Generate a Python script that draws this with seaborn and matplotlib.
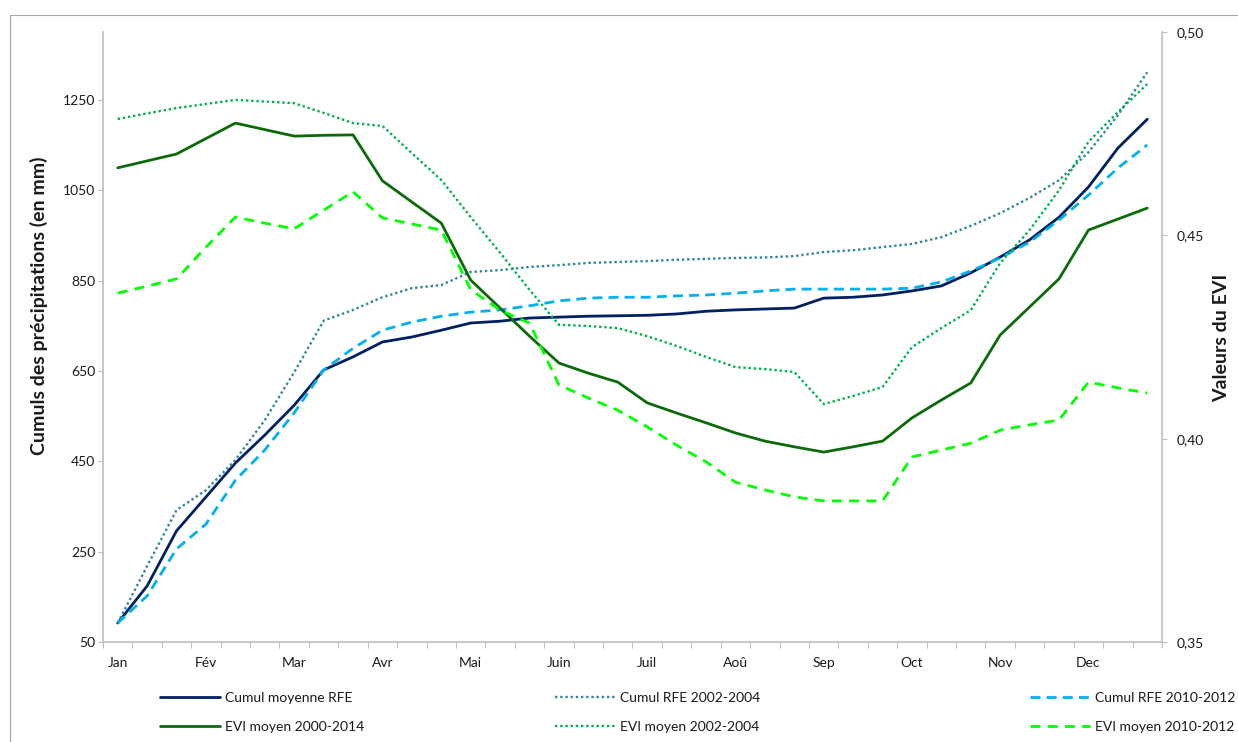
import matplotlib
matplotlib.use("Agg")
import matplotlib.pyplot as plt
import seaborn as sns
import numpy as np
from matplotlib.lines import Line2D
from matplotlib.ticker import FuncFormatter

# 36 dekads (3 per month)
months = ["Jan", "Fév", "Mar", "Avr", "Mai", "Juin", "Juil", "Aoû", "Sep", "Oct", "Nov", "Dec"]
dekads = np.arange(36)

# cumulative rainfall (mm), left axis
cumul_moy = [92, 174, 296, 371, 446, 508, 574, 652, 681, 714, 725, 740,
             756, 760, 767, 769, 771, 772, 773, 776, 782, 785, 787, 789,
             811, 813, 818, 827, 838, 867, 902, 940, 990, 1057, 1143, 1207]
cumul_0204 = [92, 218, 342, 386, 453, 541, 647, 761, 785, 813, 833, 840,
              869, 873, 880, 884, 889, 891, 893, 896, 898, 900, 901, 904,
              913, 917, 924, 931, 946, 971, 999, 1033, 1072, 1134, 1216, 1311]
cumul_1012 = [92, 152, 256, 311, 408, 475, 557, 652, 700, 740, 758, 771,
              780, 785, 794, 805, 811, 813, 813, 816, 818, 822, 827, 831,
              831, 831, 831, 833, 847, 871, 900, 935, 984, 1039, 1099, 1150]

# EVI values, right axis
evi_0014 = [0.4666, 0.4683, 0.4700, 0.4738, 0.4776, 0.4760, 0.4744, 0.4746, 0.4747, 0.4634, 0.4582, 0.4530,
            0.4390, 0.4321, 0.4252, 0.4186, 0.4161, 0.4139, 0.4088, 0.4063, 0.4039, 0.4014, 0.3994, 0.3980,
            0.3967, 0.3980, 0.3994, 0.4051, 0.4095, 0.4137, 0.4255, 0.4324, 0.4393, 0.4513, 0.4540, 0.4567]
evi_0204 = [0.4786, 0.4800, 0.4813, 0.4823, 0.4833, 0.4829, 0.4825, 0.4801, 0.4776, 0.4769, 0.4702, 0.4636,
            0.4545, 0.4457, 0.4366, 0.4280, 0.4277, 0.4272, 0.4252, 0.4228, 0.4201, 0.4176, 0.4171, 0.4164,
            0.4085, 0.4105, 0.4127, 0.4225, 0.4272, 0.4316, 0.4432, 0.4513, 0.4611, 0.4730, 0.4803, 0.4872]
evi_1012 = [0.4358, 0.4375, 0.4393, 0.4471, 0.4545, 0.4530, 0.4516, 0.4562, 0.4607, 0.4543, 0.4528, 0.4513,
            0.4366, 0.4316, 0.4284, 0.4132, 0.4100, 0.4070, 0.4029, 0.3984, 0.3943, 0.3893, 0.3874, 0.3857,
            0.3847, 0.3847, 0.3847, 0.3955, 0.3972, 0.3989, 0.4021, 0.4034, 0.4046, 0.4139, 0.4125, 0.4112]

rain_ticks = [50, 250, 450, 650, 850, 1050, 1250]
evi_ticks = [0.35, 0.40, 0.45, 0.50]

sns.set_theme(style="white")
plt.rcParams["font.family"] = ["Lato", "DejaVu Sans"]

W, H = 1238, 742
fig = plt.figure(figsize=(W / 100, H / 100), dpi=100)
ax = fig.add_axes([103 / W, 1 - 642 / H, (1162 - 103) / W, (642 - 32) / H])
ax2 = ax.twinx()

grey = "#BFBFBF"
txt = "#1a1a1a"

# rainfall lines
sns.lineplot(x=dekads, y=cumul_moy, ax=ax, color="#002060", lw=2.0,
             label="Cumul moyenne RFE")
sns.lineplot(x=dekads, y=cumul_0204, ax=ax, color="#31859C", lw=1.7,
             linestyle=(0, (1, 1.2)), label="Cumul RFE 2002-2004")
sns.lineplot(x=dekads, y=cumul_1012, ax=ax, color="#00B0F0", lw=2.0,
             linestyle=(0, (3.6, 2.2)), label="Cumul RFE 2010-2012")

# EVI lines
sns.lineplot(x=dekads, y=evi_0014, ax=ax2, color="#0B6B0B", lw=2.0,
             label="EVI moyen 2000-2014")
sns.lineplot(x=dekads, y=evi_0204, ax=ax2, color="#00B050", lw=1.7,
             linestyle=(0, (1, 1.2)), label="EVI moyen 2002-2004")
sns.lineplot(x=dekads, y=evi_1012, ax=ax2, color="#00FF00", lw=2.0,
             linestyle=(0, (3.6, 2.6)), label="EVI moyen 2010-2012")

for a in (ax, ax2):
    if a.get_legend() is not None:
        a.get_legend().remove()
    a.set_xlabel("")
    for s in a.spines.values():
        s.set_visible(False)
        s.set_color(grey)

# axes limits and ticks
ax.set_xlim(-0.5, 35.5)
ax.set_ylim(50, 1400)
ax.set_yticks(rain_ticks)
ax.set_xticks(dekads[::3])
ax.set_xticklabels(months)
ax.set_xticks(np.arange(-0.5, 36, 1), minor=True)
ax.spines["left"].set_visible(True)
ax.spines["bottom"].set_visible(True)
ax.tick_params(axis="y", which="major", left=True, length=3.5, width=0.8, color=grey,
               pad=2, labelsize=10, labelcolor=txt)
ax.tick_params(axis="x", which="major", bottom=True, length=0, pad=11,
               labelsize=10, labelcolor=txt)
ax.tick_params(axis="x", which="minor", bottom=True, length=4, width=0.8, color=grey)

ax2.set_ylim(0.35, 0.50)
ax2.set_yticks(evi_ticks)
ax2.yaxis.set_major_formatter(FuncFormatter(lambda v, p: f"{v:.2f}".replace(".", ",")))
ax2.spines["right"].set_visible(True)
ax2.tick_params(axis="y", right=True, length=3.5, width=0.8, color=grey,
                pad=7, labelsize=10, labelcolor=txt)

ax.set_ylabel("Cumuls des précipitations (en mm)", fontsize=14,
              fontweight="bold", color=txt)
ax.yaxis.set_label_coords(-0.052, 0.551)
ax2.set_ylabel("Valeurs du EVI", fontsize=14, fontweight="bold",
               color=txt, rotation=90)
ax2.yaxis.set_label_coords(1.048, 0.498)

# legend: three columns of two rows
h1, l1 = ax.get_legend_handles_labels()
h2, l2 = ax2.get_legend_handles_labels()
for i, x0 in enumerate([160, 555, 1030]):
    leg = fig.legend([h1[i], h2[i]], [l1[i], l2[i]], loc="upper left",
                     bbox_to_anchor=(x0 / W, 1 - 692 / H), frameon=False,
                     fontsize=10, handlelength=4.3, handletextpad=0.35,
                     labelspacing=1.2, borderpad=0, borderaxespad=0)
    for t in leg.get_texts():
        t.set_color(txt)

# chart border (top and left edges visible)
fig.add_artist(Line2D([10 / W, 1], [1 - 15 / H, 1 - 15 / H], color="#A6A6A6", lw=0.8))
fig.add_artist(Line2D([10 / W, 10 / W], [0, 1 - 15 / H], color="#A6A6A6", lw=0.8))

fig.savefig("out.png", dpi=100)
